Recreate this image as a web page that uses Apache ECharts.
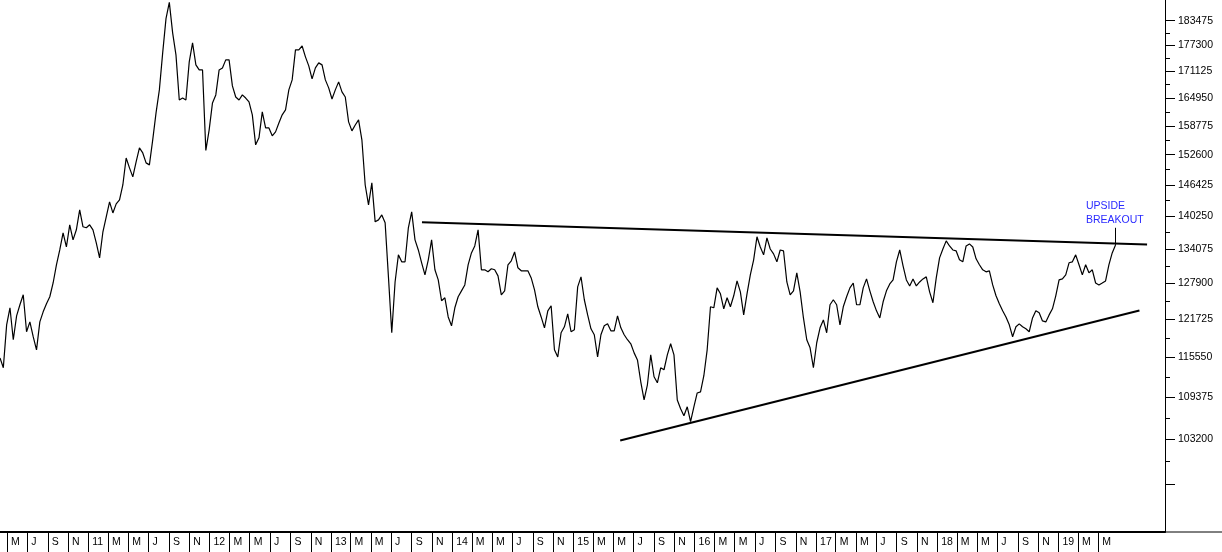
<!DOCTYPE html>
<html><head><meta charset="utf-8">
<script src="https://cdn.jsdelivr.net/npm/echarts@6/dist/echarts.min.js"></script>
<style>html,body{margin:0;padding:0;background:#fff;overflow:hidden}#c{width:1222px;height:552px}</style>
</head><body><div id="c"></div>
<script>
// ---- data ----
const seriesStart = '2010-04-10';   // first reading
const seriesStepDays = 10;          // one reading every 10 calendar days
const prices = [
115410,113860,120780,123645,118335,122275,124160,125875,119640,121270,
118825,116705,121270,122960,124330,125535,127935,131175,133875,137075,
134425,138585,135750,137640,141460,138210,138020,138585,137640,135185,
132435,137265,140100,143035,140870,142640,143430,146385,151925,149875,
148030,151105,154045,152975,150900,150490,155760,161640,166830,175530,
184000,188150,180425,175055,164530,164975,164530,173380,177945,172665,
171470,171470,153500,157900,163860,165675,171470,171945,173860,173860,
167750,165210,164530,165675,164975,164085,161200,154690,156185,161865,
158325,158325,156615,157470,159420,161200,162310,166830,169140,176250,
176250,177205,174575,172425,169370,171945,173140,172665,169140,167290,
164750,166830,168675,166365,165210,159645,157680,158975,160090,155760,
146385,142445,146800,139155,139530,140485,138965,129015,119475,128115,
132975,131715,131715,138020,141065,135750,133875,131535,129375,132075,
135750,130275,128475,124845,125360,122100,120620,123645,125535,126560,
127590,131175,133335,134615,137640,130275,130275,129915,130455,130275,
129195,125875,126560,131175,131895,133515,130635,130095,130095,130095,
128835,126735,123815,122100,120290,123130,123990,116705,115565,119475,
120455,122615,119640,119965,127250,129015,125020,122445,120130,119150,
115565,119150,120620,120945,119800,119800,122275,120290,119150,118335,
117680,116215,115100,111690,108935,111225,115890,112465,111535,113860,
113550,115890,117680,115890,108935,107620,106600,107915,105725,107915,
109985,110140,112620,116705,123815,123645,127075,126050,123475,125360,
123815,125705,128295,126390,122445,126050,129375,132075,136320,134425,
132975,136130,134055,133155,131715,133875,133695,128115,125875,126560,
129735,126390,121930,118335,117030,113860,117845,120290,121595,119475,
124160,125020,124160,120780,123815,125535,127075,127935,124160,124160,
127075,128655,126560,124675,123130,121930,124675,126560,127765,128475,
131715,133875,130995,128475,127420,128655,127420,128115,128655,129015,
126390,124505,128835,132435,134055,135560,134615,133875,133695,132075,
131715,134615,134995,134425,132255,131175,130275,129915,130095,127590,
125705,124330,123130,122100,120780,118825,120455,120945,120455,120130,
119640,121930,123130,122790,121430,121270,122445,123475,125705,128475,
128655,129375,131535,131715,132975,131175,129375,131175,129735,130275,
127935,127590,127935,128295,131175,133335,134805
];
const yTickValues = [97025,103200,109375,115550,121725,127900,134075,140250,146425,152600,158775,164950,171125,177300,183475];
const yLabelValues = [103200,109375,115550,121725,127900,134075,140250,146425,152600,158775,164950,171125,177300,183475];
const yRange = [90850, 188770];
const xRange = ['2010-04-10', '2019-11-18'];
const xTickFirst = '2010-05-01', xTickLast = '2019-05-01', xTickStepMonths = 2;
const monthLetters = ['J','F','M','A','M','J','J','A','S','O','N','D'];
const topTrend = [['2013-10-02', 139060], ['2019-09-25', 134900]];
const bottomTrend = [['2015-05-22', 103035], ['2019-09-02', 123180]];
const breakoutLine = [['2019-06-22', 138020], ['2019-06-22', 134805]];
const breakoutText = { lines: ['UPSIDE', 'BREAKOUT'], at: ['2019-03-25', 140870] };

// ---- helpers ----
function toTime(s) { const p = s.split('-').map(Number); return new Date(p[0], p[1] - 1, p[2]).getTime(); }
const s0 = seriesStart.split('-').map(Number);
const priceData = prices.map((v, i) => [new Date(s0[0], s0[1] - 1, s0[2] + i * seriesStepDays).getTime(), v]);
const xTicks = [];
{
  const a = xTickFirst.split('-').map(Number), b = xTickLast.split('-').map(Number);
  let y = a[0], m = a[1] - 1;
  while (y < b[0] || (y === b[0] && m <= b[1] - 1)) {
    xTicks.push(new Date(y, m, 1).getTime());
    m += xTickStepMonths; if (m > 11) { m -= 12; y += 1; }
  }
}
const yMinor = [];
for (let i = 0; i + 1 < yTickValues.length; i++) yMinor.push((yTickValues[i] + yTickValues[i + 1]) / 2);
const conv = arr => arr.map(d => [toTime(d[0]), d[1]]);

const chart = echarts.init(document.getElementById('c'), null, { renderer: 'canvas' });
const font = 'Liberation Sans, Arial, sans-serif';
chart.setOption({
  animation: false,
  backgroundColor: '#ffffff',
  grid: { left: 0, right: 57, top: 0, bottom: 20, outerBoundsMode: 'none', containLabel: false },
  xAxis: {
    type: 'value', min: toTime(xRange[0]), max: toTime(xRange[1]), scale: true,
    axisLine: { show: true, onZero: false, lineStyle: { color: '#000', width: 2 } },
    axisTick: { show: true, customValues: xTicks, length: 20, inside: false, lineStyle: { color: '#000', width: 1 } },
    minorTick: { show: false },
    splitLine: { show: false },
    axisLabel: {
      customValues: xTicks, margin: 10, align: 'left', verticalAlign: 'middle', padding: [0, 0, 0, 4],
      color: '#000', fontSize: 10.5, fontFamily: font,
      formatter: function (v) { const d = new Date(v); return d.getMonth() === 0 ? String(d.getFullYear() % 100).padStart(2, '0') : monthLetters[d.getMonth()]; }
    }
  },
  yAxis: [{
    type: 'log', position: 'right', min: yRange[0], max: yRange[1],
    axisLine: { show: true, lineStyle: { color: '#000', width: 1 } },
    axisTick: { show: true, customValues: yTickValues, length: 10, lineStyle: { color: '#000' } },
    minorTick: { show: false }, splitLine: { show: false },
    axisLabel: { customValues: yLabelValues, margin: 13, color: '#000', fontSize: 10.5, fontFamily: font, formatter: v => String(Math.round(v)) }
  }, {
    type: 'log', position: 'right', min: yRange[0], max: yRange[1],
    axisLine: { show: false },
    axisTick: { show: true, customValues: yMinor, length: 5, lineStyle: { color: '#000' } },
    axisLabel: { show: false }, splitLine: { show: false }, minorTick: { show: false }
  }],
  graphic: [{ type: 'line', shape: { x1: 1165, y1: 532, x2: 1222, y2: 532 }, style: { stroke: '#000', lineWidth: 1 }, silent: true }],
  series: [{
    type: 'line', data: priceData, yAxisIndex: 0, symbol: 'none', silent: true,
    lineStyle: { color: '#000', width: 1.2 }
  }, {
    type: 'line', data: conv(topTrend), symbol: 'none', silent: true, lineStyle: { color: '#000', width: 2 }
  }, {
    type: 'line', data: conv(bottomTrend), symbol: 'none', silent: true, lineStyle: { color: '#000', width: 2 },
    markLine: {
      silent: true, symbol: 'none', label: { show: false },
      lineStyle: { color: '#000', width: 1, type: 'solid' },
      data: [[{ coord: [toTime(breakoutLine[0][0]), breakoutLine[0][1]] }, { coord: [toTime(breakoutLine[1][0]), breakoutLine[1][1]] }]]
    },
    markPoint: {
      silent: true, symbol: 'circle', symbolSize: 0,
      data: [{ coord: [toTime(breakoutText.at[0]), breakoutText.at[1]] }],
      label: { show: true, position: 'right', distance: 0, formatter: breakoutText.lines.join('\n'),
        color: '#2a2aff', fontSize: 10.5, fontFamily: font, lineHeight: 14, align: 'left' }
    }
  }]
});
</script>
</body></html>
